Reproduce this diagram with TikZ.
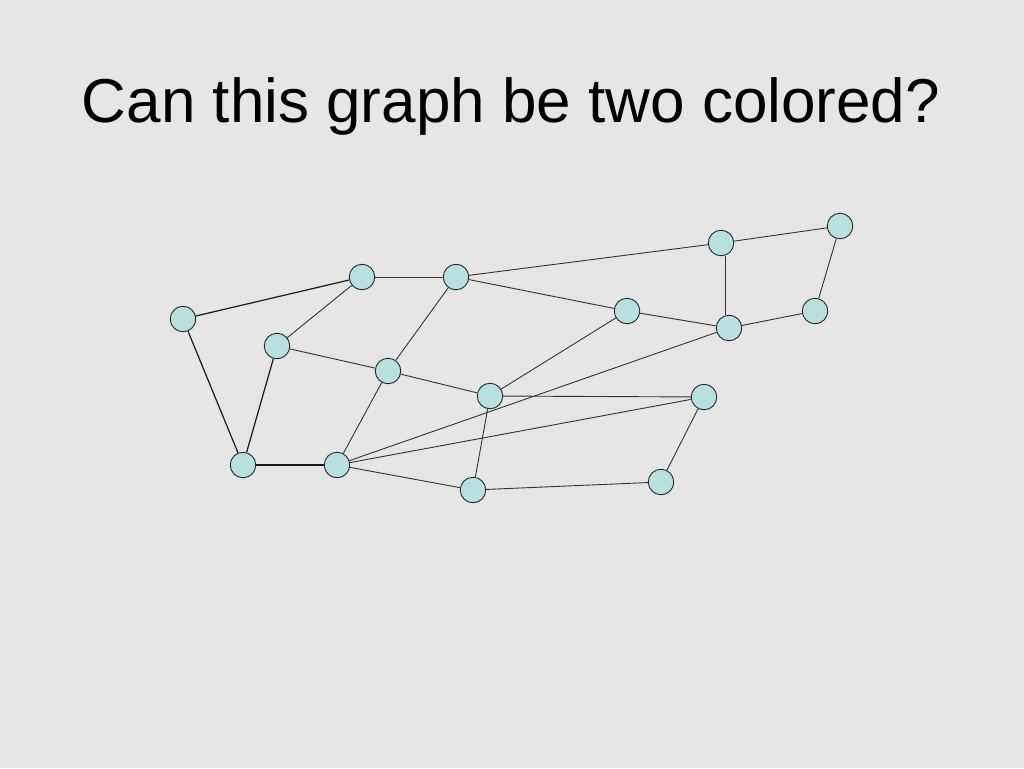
\documentclass[tikz,border=0pt]{standalone}
\usepackage{fontspec}
\setmainfont{Liberation Sans}
\usepackage{tikz}
\definecolor{slidebg}{HTML}{E6E6E6}
\definecolor{vertexfill}{HTML}{B9E0E0}
\tikzstyle{vertex}=[draw=black!85,fill=vertexfill,shape=circle,minimum size=25.5pt,inner sep=0pt,line width=0.9pt]
\tikzstyle{edge}=[line width=0.9pt,draw=black!80]
\tikzstyle{thickedge}=[line width=1.2pt,draw=black!90]

\begin{document}
\begin{tikzpicture}[x=1pt,y=-1pt]
\fill[slidebg] (0,0) rectangle (1024,768);
\useasboundingbox (0,0) rectangle (1024,768);
\node[anchor=base] (Title) at (511,122) {\fontsize{62}{74}\selectfont Can this graph be two colored?};
\node[vertex] at (183,319) (A) {};
\node[vertex] at (243,465) (B) {};
\node[vertex] at (362,277) (C) {};
\node[vertex] at (456,277) (D) {};
\node[vertex] at (277,346) (E) {};
\node[vertex] at (388,371) (F) {};
\node[vertex] at (337,465) (G) {};
\node[vertex] at (490,396) (H) {};
\node[vertex] at (473,490) (I) {};
\node[vertex] at (627,311) (J) {};
\node[vertex] at (721,243) (K) {};
\node[vertex] at (840,226) (L) {};
\node[vertex] at (815,311) (M) {};
\node[vertex] at (729,328) (N) {};
\node[vertex] at (704,397) (O) {};
\node[vertex] at (661,482) (P) {};
\draw[thickedge] (A) -- (C);
\draw[thickedge] (A) -- (B);
\draw[thickedge] (B) -- (E);
\draw[thickedge] (B) -- (G);
\draw[edge] (E) -- (C);
\draw[edge] (C) -- (D);
\draw[edge] (D) -- (K);
\draw[edge] (K) -- (L);
\draw[edge] (L) -- (M);
\draw[edge] (M) -- (N);
\draw[edge] ([xshift=4pt]K.south) -- ([xshift=-4pt]N.north);
\draw[edge] (D) -- (J);
\draw[edge] (J) -- (N);
\draw[edge] (D) -- (F);
\draw[edge] (E) -- (F);
\draw[edge] (F) -- (H);
\draw[edge] (F) -- (G);
\draw[edge] (H) -- (J);
\draw[edge] (H) -- (O);
\draw[edge] (H) -- (I);
\draw[edge] (G) -- (N);
\draw[edge] (G) -- (O);
\draw[edge] (G) -- (I);
\draw[edge] (I) -- (P);
\draw[edge] (P) -- (O);
\end{tikzpicture}
\end{document}
